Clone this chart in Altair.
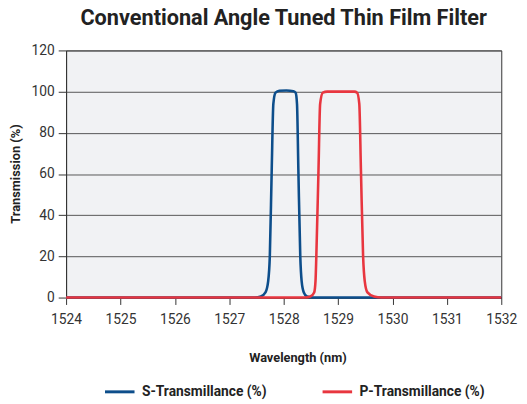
import altair as alt
import pandas as pd

s_wl = [1524, 1527.47, 1527.58, 1527.665, 1527.715, 1527.745, 1527.78, 1527.81, 1527.85, 1527.92, 1528.05,
        1528.18, 1528.22, 1528.245, 1528.27, 1528.305, 1528.33, 1528.37, 1528.43, 1528.55, 1532]
s_val = [0, 0, 0.5, 2.5, 8, 20, 62, 94, 99.5, 100.4, 100.5,
         100.2, 99.5, 94, 62, 20, 8, 2.5, 0.5, 0, 0]

p_wl = [1524, 1528.38, 1528.49, 1528.56, 1528.585, 1528.60, 1528.64, 1528.67, 1528.72, 1528.80, 1529.0,
        1529.3, 1529.35, 1529.39, 1529.42, 1529.46, 1529.49, 1529.54, 1529.66, 1529.8, 1532]
p_val = [0, 0, 0.5, 2.5, 8, 20, 62, 94, 99.5, 100, 100,
         100, 99.5, 94, 62, 20, 8, 2.5, 0.5, 0, 0]

series = ["S-Transmillance (%)", "P-Transmillance (%)"]
colors = ["#0d4e8b", "#e8363f"]
x_ticks = list(range(1524, 1533))
y_ticks = [0, 20, 40, 60, 80, 100, 120]

df = pd.concat([
    pd.DataFrame({"wl": s_wl, "val": s_val, "series": series[0], "ord": 0}),
    pd.DataFrame({"wl": p_wl, "val": p_val, "series": series[1], "ord": 1}),
])

FONT = "Roboto, Liberation Sans, sans-serif"

chart = alt.Chart(df).mark_line(strokeWidth=2.6, interpolate="monotone").encode(
    x=alt.X("wl:Q", scale=alt.Scale(domain=[1524, 1532], nice=False, zero=False),
            axis=alt.Axis(title="Wavelength (nm)", values=x_ticks, format="d", labelFlush=False,
                          labelOverlap=False, tickSize=7, labelPadding=8, grid=False,
                          titleX=235, titleY=61, titleBaseline="middle", titleAlign="center")),
    y=alt.Y("val:Q", scale=alt.Scale(domain=[0, 120], nice=False),
            axis=alt.Axis(title="Transmission (%)", values=y_ticks, labelOverlap=False,
                          tickSize=8, labelPadding=4, grid=True,
                          titleX=-51, titleY=125, titleBaseline="middle", titleAlign="center",
                          titleAngle=270)),
    color=alt.Color("series:N", sort=series, scale=alt.Scale(domain=series, range=colors),
                    legend=alt.Legend(title=None, orient="none", legendX=38, legendY=330,
                                      direction="horizontal", symbolType="stroke",
                                      symbolSize=900, symbolStrokeWidth=3, labelFontSize=14,
                                      labelFont=FONT, labelFontWeight="bold", labelColor="#222",
                                      columnPadding=50, labelOffset=6)),
    order="ord:Q",
    detail="series:N",
).properties(
    width=442, height=251,
    title=alt.TitleParams("Conventional Angle Tuned Thin Film Filter", fontSize=22, font=FONT,
                          fontWeight="bold", color="#222", anchor="middle", frame="group", offset=14),
    autosize="none",
    padding={"left": 59, "top": 40, "right": 18, "bottom": 105},
).configure_view(
    fill="#f1f2f4", stroke="#333", strokeWidth=1,
).configure_axis(
    labelFont=FONT, labelFontSize=14, labelColor="#333",
    titleFont=FONT, titleFontSize=13, titleFontWeight="bold", titleColor="#222",
    domainColor="#333", tickColor="#333", gridColor="#555", gridWidth=1,
)

chart.save("out.html", embed_options={"renderer": "svg", "actions": False})
